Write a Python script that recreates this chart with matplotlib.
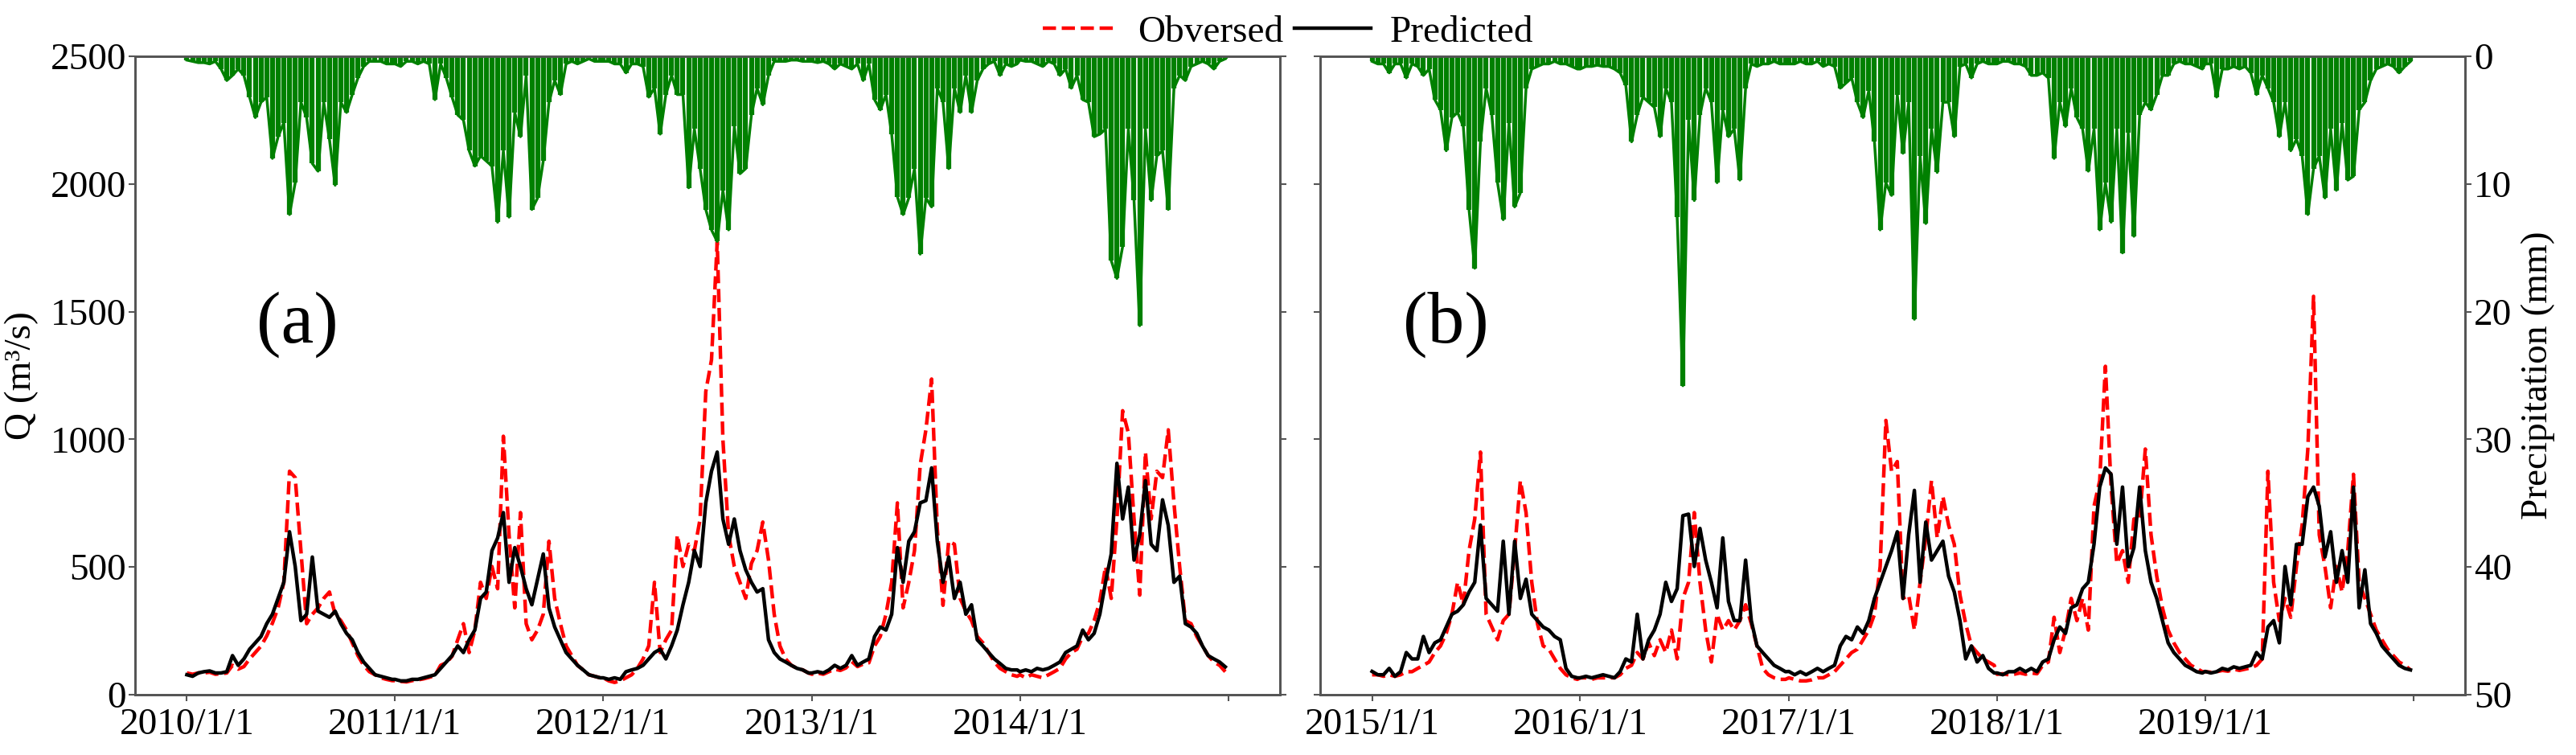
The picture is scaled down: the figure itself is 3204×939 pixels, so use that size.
import matplotlib
matplotlib.use('Agg')
import matplotlib.pyplot as plt
import pandas as pd

plt.rcParams['font.family'] = ['Liberation Serif', 'DejaVu Serif']

# samples every 10 days (day 0, 10, ..., 360 of each year)
step = 10
years_a = [2010, 2011, 2012, 2013, 2014]
years_b = [2015, 2016, 2017, 2018, 2019]

# discharge, m3/s -- observed (red) and predicted (black)
obs_a = [
    85, 80, 85, 85, 88, 80, 82, 85, 115, 100, 110, 140, 165, 190, 230, 280, 340, 440, 875,
    850, 564, 278, 315, 340, 377, 402, 315, 290, 253, 203, 153, 115, 90, 78, 66, 60, 55,  # 2010
    55, 52, 50, 55, 58, 62, 68, 75, 115, 125, 150, 215, 278, 165, 253, 440, 377, 502, 415,
    1012, 626, 340, 713, 278, 215, 253, 315, 601, 377, 278, 191, 153, 115, 97, 78, 72, 66,  # 2011
    66, 54, 48, 54, 66, 78, 103, 140, 191, 440, 165, 215, 253, 626, 502, 589, 564, 688, 1187,
    1311, 1773, 1000, 626, 502, 440, 377, 514, 564, 676, 527, 315, 191, 140, 115, 103, 97, 85,  # 2012
    80, 85, 80, 90, 100, 95, 105, 130, 110, 120, 125, 191, 228, 315, 440, 751, 340, 440, 564,
    900, 1037, 1236, 650, 350, 601, 589, 377, 327, 290, 228, 203, 165, 128, 103, 90, 78, 72,  # 2013
    78, 66, 78, 72, 66, 78, 90, 103, 140, 165, 178, 228, 240, 290, 365, 502, 377, 688, 1112,
    1025, 688, 390, 950, 688, 875, 850, 1037, 751, 502, 290, 278, 228, 191, 153, 128, 115, 90,  # 2014
]
sim_a = [
    78, 72, 85, 90, 93, 85, 85, 90, 153, 115, 140, 178, 203, 228, 278, 315, 377, 440, 638,
    502, 290, 315, 539, 327, 315, 303, 327, 278, 240, 215, 165, 128, 103, 78, 72, 66, 60,
    60, 54, 54, 60, 60, 66, 72, 78, 103, 128, 153, 191, 165, 215, 253, 377, 402, 564, 614,
    713, 440, 576, 502, 415, 352, 452, 551, 340, 265, 215, 165, 140, 115, 97, 78, 72, 66,
    66, 60, 66, 60, 90, 97, 103, 115, 140, 165, 178, 140, 191, 253, 352, 440, 564, 502, 751,
    875, 950, 688, 589, 688, 564, 489, 440, 402, 415, 215, 165, 140, 128, 115, 103, 97, 85,
    85, 90, 85, 97, 115, 103, 115, 153, 115, 128, 140, 228, 265, 253, 315, 576, 440, 601, 638,
    751, 760, 888, 600, 440, 539, 377, 440, 315, 352, 215, 191, 165, 140, 122, 103, 97, 97,
    90, 97, 90, 103, 97, 103, 115, 128, 165, 178, 191, 253, 215, 240, 315, 440, 551, 906, 688,
    813, 527, 626, 838, 589, 564, 763, 663, 440, 464, 278, 265, 240, 191, 153, 140, 128, 109,
]
obs_b = [
    78, 78, 72, 78, 72, 78, 90, 90, 103, 115, 128, 165, 191, 240, 315, 440, 352, 564, 688,
    950, 315, 265, 215, 290, 315, 564, 838, 713, 440, 278, 191, 178, 140, 103, 78, 66, 60,  # 2015
    66, 66, 60, 66, 66, 66, 66, 78, 103, 115, 165, 140, 203, 153, 215, 165, 253, 140, 377,
    440, 713, 440, 253, 128, 315, 253, 290, 253, 290, 352, 278, 191, 103, 78, 66, 60, 60,  # 2016
    66, 60, 54, 54, 58, 66, 66, 78, 90, 115, 140, 165, 178, 215, 253, 315, 502, 1074, 875,
    913, 377, 390, 253, 440, 614, 838, 614, 776, 664, 589, 390, 278, 191, 165, 140, 128, 115,  # 2017
    80, 82, 78, 80, 85, 80, 85, 82, 115, 128, 303, 165, 253, 377, 290, 377, 253, 738, 838,
    1286, 813, 514, 564, 440, 688, 688, 962, 626, 464, 340, 253, 203, 165, 140, 115, 103, 90,  # 2018
    90, 88, 90, 95, 92, 100, 95, 100, 105, 115, 140, 875, 440, 290, 377, 303, 502, 664, 962,
    1560, 626, 502, 340, 502, 402, 564, 863, 440, 377, 315, 253, 215, 178, 153, 128, 115, 97,  # 2019
]
sim_b = [
    91, 78, 78, 103, 72, 90, 165, 140, 140, 228, 165, 203, 215, 265, 315, 327, 352, 402, 440,
    664, 377, 352, 327, 601, 315, 601, 377, 452, 315, 290, 265, 253, 228, 215, 103, 72, 66,
    66, 72, 66, 72, 78, 72, 66, 90, 140, 128, 315, 140, 215, 253, 315, 440, 365, 415, 701,
    707, 502, 651, 527, 440, 340, 614, 365, 290, 290, 527, 290, 191, 165, 140, 115, 103, 90,
    91, 78, 90, 78, 90, 103, 90, 103, 115, 191, 228, 215, 265, 240, 290, 377, 440, 502, 564,
    638, 377, 626, 800, 440, 676, 527, 564, 601, 464, 402, 290, 140, 191, 128, 153, 103, 85,
    85, 78, 90, 90, 103, 90, 103, 90, 128, 140, 215, 265, 240, 340, 352, 415, 440, 589, 813,
    888, 863, 589, 813, 502, 576, 813, 564, 440, 377, 290, 203, 165, 140, 115, 103, 90, 85,
    91, 85, 90, 103, 97, 109, 103, 109, 115, 165, 140, 265, 290, 203, 502, 352, 589, 589, 776,
    813, 738, 539, 638, 440, 564, 440, 813, 340, 489, 278, 240, 191, 165, 140, 115, 103, 97,
]

# precipitation, mm
rain_a = [
    0.3, 0.4, 0.5, 0.5, 0.6, 0.4, 1.0, 1.9, 1.5, 1.0, 1.5, 3.2, 4.8, 3.6, 3.2, 8.0, 6.3, 5.2, 12.4,
    9.9, 3.6, 4.8, 8.4, 9.0, 3.6, 6.5, 10.1, 3.6, 4.4, 3.0, 1.7, 0.8, 0.4, 0.4, 0.4, 0.6, 0.6,
    0.6, 0.8, 0.4, 0.4, 0.6, 0.4, 0.6, 3.4, 0.6, 1.7, 3.2, 4.6, 5.0, 7.4, 8.6, 7.8, 8.2, 8.6, 13.0,
    7.4, 12.6, 4.4, 6.3, 1.5, 12.0, 11.1, 8.2, 3.6, 1.9, 3.0, 0.6, 0.4, 0.6, 0.4, 0.2, 0.4, 0.4,
    0.4, 0.4, 0.6, 0.6, 1.3, 0.6, 0.6, 0.8, 3.2, 2.5, 6.1, 3.0, 1.5, 3.0, 3.0, 10.3, 5.7, 8.8, 12.0,
    13.6, 14.5, 10.5, 13.6, 5.5, 9.2, 8.8, 4.6, 2.5, 3.8, 1.5, 0.4, 0.4, 0.4, 0.3, 0.3, 0.4, 0.4,
    0.4, 0.5, 0.4, 0.6, 1.0, 0.6, 0.8, 1.0, 0.6, 1.9, 0.6, 3.4, 4.2, 3.0, 6.1, 11.0, 12.4, 11.1, 8.8,
    15.5, 11.1, 11.8, 2.5, 3.6, 8.8, 2.5, 4.4, 1.5, 4.4, 1.9, 1.0, 0.6, 0.4, 1.5, 0.6, 0.8, 0.6,
    0.3, 0.4, 0.4, 0.6, 0.8, 0.4, 0.6, 1.5, 1.0, 2.5, 1.5, 3.4, 3.6, 6.3, 6.1, 5.7, 16.0, 17.4, 14.9,
    5.7, 11.3, 21.1, 5.7, 11.3, 7.8, 7.4, 12.0, 2.5, 1.5, 1.9, 0.8, 0.6, 0.4, 0.6, 1.0, 0.4, 0.2,
]
rain_b = [
    0.4, 0.6, 0.6, 1.3, 0.6, 0.6, 1.7, 0.6, 0.8, 1.5, 1.0, 3.4, 4.2, 7.4, 4.8, 4.4, 5.5, 12.0, 16.6,
    6.7, 2.5, 4.6, 9.9, 12.8, 5.2, 11.8, 10.7, 2.5, 1.0, 0.8, 0.6, 0.6, 0.4, 0.6, 0.6, 0.8, 1.0,
    1.0, 0.8, 0.8, 0.7, 0.8, 0.8, 1.0, 1.3, 2.3, 6.7, 4.6, 3.2, 3.6, 4.0, 6.3, 2.5, 3.6, 12.6, 25.8,
    5.0, 11.3, 4.6, 2.5, 3.6, 9.9, 4.2, 6.3, 5.7, 9.7, 2.5, 0.6, 0.8, 0.6, 0.6, 0.4, 0.6, 0.6,
    0.6, 0.6, 0.4, 0.6, 0.6, 0.4, 0.8, 0.6, 0.8, 2.5, 2.1, 1.7, 3.6, 4.8, 2.7, 6.7, 13.6, 9.9, 10.9,
    3.0, 7.6, 3.6, 20.6, 7.8, 13.1, 5.7, 9.1, 3.6, 3.6, 6.3, 0.8, 0.6, 1.7, 0.6, 0.4, 0.6, 0.6,
    0.6, 0.4, 0.4, 0.6, 0.6, 0.8, 1.5, 1.5, 1.3, 1.7, 8.0, 3.6, 5.5, 2.5, 4.8, 5.7, 9.0, 5.7, 13.6,
    9.9, 13.0, 5.7, 15.4, 6.0, 14.1, 4.6, 3.6, 4.2, 3.0, 1.5, 1.5, 0.6, 0.4, 0.6, 0.6, 0.8, 1.0,
    0.6, 0.6, 3.2, 1.0, 1.0, 0.8, 1.0, 0.8, 1.3, 3.0, 1.5, 2.5, 3.6, 6.3, 3.6, 7.4, 6.5, 7.8, 12.4,
    8.8, 7.8, 11.1, 5.7, 10.5, 5.2, 9.7, 9.4, 4.2, 3.6, 1.9, 1.0, 0.8, 0.6, 0.8, 1.3, 0.8, 0.4,
]

FS = 34
SPINE = '#555555'


def make_dates(years):
    return pd.DatetimeIndex([pd.Timestamp(y, 1, 1) + pd.Timedelta(days=d)
                             for y in years for d in range(0, 361, step)])


def draw_panel(ax, years, obs, sim, rain, tag, tag_x, first):
    dates = make_dates(years)
    ax.plot(dates, obs, color='red', ls='--', lw=3.2, label='Obversed')
    ax.plot(dates, sim, color='black', ls='-', lw=3.2, label='Predicted')
    ax.set_ylim(0, 2500)
    ax.set_yticks([0, 500, 1000, 1500, 2000, 2500])

    ticks = [pd.Timestamp(y, 1, 1) for y in years + [years[-1] + 1]]
    ax.set_xticks(ticks)
    ax.set_xticklabels(['%d/1/1' % y for y in years] + [''])
    pad = pd.Timedelta(days=91)
    ax.set_xlim(ticks[0] - pad, ticks[-1] + pad)

    # precipitation hanging from the top
    ax2 = ax.twinx()
    ax2.vlines(dates, 0, rain, color='green', lw=4.5)
    ax2.plot(dates, rain, color='green', lw=2.5)
    ax2.set_ylim(50, 0)
    ax2.set_yticks([0, 10, 20, 30, 40, 50])

    for a in (ax, ax2):
        for s in a.spines.values():
            s.set_color(SPINE)
            s.set_linewidth(2)
        a.tick_params(labelsize=FS, length=6, width=1.5, color=SPINE, pad=2)
    ax.tick_params(axis='x', pad=6)

    if first:
        ax2.tick_params(labelright=False)
        ax.set_ylabel('Q (m³/s)', fontsize=FS, labelpad=10)
    else:
        ax.tick_params(labelleft=False)
        ax2.set_ylabel('Precipitation (mm)', fontsize=FS, labelpad=8)

    ax.text(tag_x, 0.58, tag, transform=ax.transAxes, fontsize=66,
            ha='center', va='center')
    return ax, ax2


fig = plt.figure(figsize=(32.04, 9.39), dpi=100)
ax_a = fig.add_axes([0.0524, 0.0799, 0.4445, 0.8456])
ax_b = fig.add_axes([0.5125, 0.0799, 0.4445, 0.8456])

draw_panel(ax_a, years_a, obs_a, sim_a, rain_a, '(a)', 0.142, True)
draw_panel(ax_b, years_b, obs_b, sim_b, rain_b, '(b)', 0.110, False)

handles, labels = ax_a.get_legend_handles_labels()
fig.legend(handles, labels, loc='center', bbox_to_anchor=(0.5, 0.957), ncol=2,
           frameon=False, fontsize=FS, handlelength=2.0, handletextpad=0.5,
           columnspacing=0.3, borderaxespad=0)

fig.savefig('out.png', dpi=100)
